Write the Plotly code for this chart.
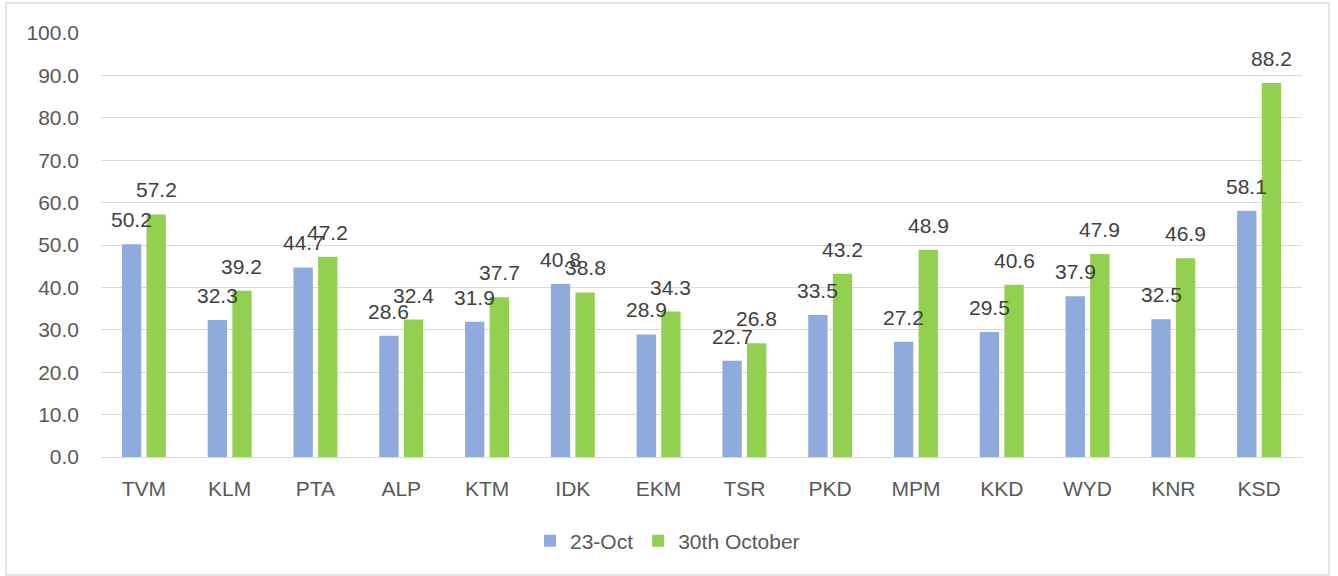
import plotly.graph_objects as go

districts = ["TVM", "KLM", "PTA", "ALP", "KTM", "IDK", "EKM", "TSR", "PKD", "MPM", "KKD", "WYD", "KNR", "KSD"]
oct23 = [50.2, 32.3, 44.7, 28.6, 31.9, 40.8, 28.9, 22.7, 33.5, 27.2, 29.5, 37.9, 32.5, 58.1]
oct30 = [57.2, 39.2, 47.2, 32.4, 37.7, 38.8, 34.3, 26.8, 43.2, 48.9, 40.6, 47.9, 46.9, 88.2]
series_names = ["23-Oct", "30th October"]
colors = ["#8FAADC", "#92D050"]

W, H = 1338, 576
L, R, T, B = 101, 36, 33, 119
pw, ph = W - L - R, H - T - B

FONT = "Liberation Sans"
FS = 21

fig = go.Figure()
for name, vals, col in zip(series_names, [oct23, oct30], colors):
    fig.add_trace(go.Bar(
        x=districts, y=vals, name=name, marker_color=col, marker_line_width=0,
    ))

# data labels above each bar (offset to the bar within its group)
for vals, dx in zip([oct23, oct30], [-12.3, 12.3]):
    for cat, v in zip(districts, vals):
        fig.add_annotation(x=cat, y=v, xref="x", yref="y", text=f"{v:.1f}",
                           showarrow=False, xshift=dx, yshift=11, yanchor="bottom",
                           font=dict(family=FONT, size=FS, color="#404040"))

fig.update_layout(
    width=W, height=H,
    margin=dict(l=L, r=R, t=T, b=B, autoexpand=False),
    paper_bgcolor="white", plot_bgcolor="white",
    barmode="group", bargap=0.426, bargroupgap=0.215,
    font=dict(family=FONT, size=FS, color="#595959"),
    showlegend=True,
    legend=dict(orientation="h", x=(530 - L) / pw, xanchor="left",
                y=(457 - 541) / ph, yanchor="middle",
                font=dict(family=FONT, size=FS, color="#595959"),
                itemwidth=30, traceorder="normal"),
    xaxis=dict(showgrid=False, showline=False, ticks="", ticklabelstandoff=17,
               tickfont=dict(size=FS, color="#595959")),
    yaxis=dict(range=[0, 100], dtick=10, tickformat=".1f", showgrid=True,
               gridcolor="#D9D9D9", gridwidth=1.3, zeroline=True, zerolinecolor="#D9D9D9",
               zerolinewidth=1.3, showline=False, ticks="", ticklabelstandoff=21,
               tickfont=dict(size=FS, color="#595959")),
)

# outer chart border
fig.add_shape(type="rect", xref="paper", yref="paper",
              x0=(6 - L) / pw, x1=(1329 - L) / pw,
              y0=(457 - 575) / ph, y1=(457 - 3) / ph,
              line=dict(color="#D9D9D9", width=1.3), fillcolor="rgba(0,0,0,0)", layer="below")

fig.write_html("out.html", config={"displayModeBar": False},
               post_script="document.body.style.margin='0';document.body.style.overflow='hidden';")
